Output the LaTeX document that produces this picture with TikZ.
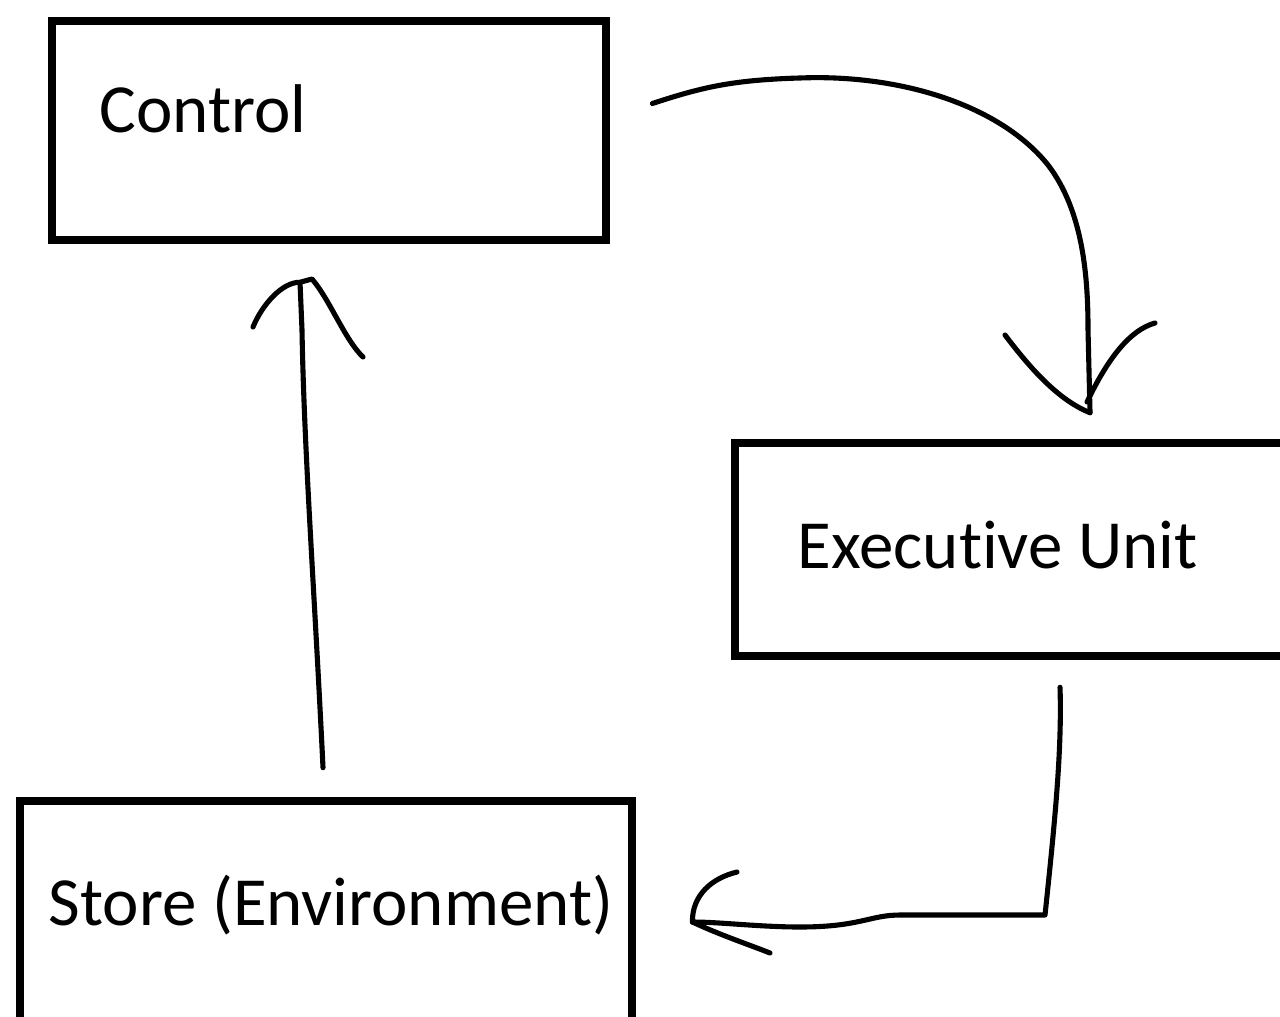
\documentclass[tikz,border=0pt]{standalone}
\usepackage{fontspec}
\setmainfont[Ligatures=NoCommon]{Carlito}
\usetikzlibrary{calc}
\begin{document}
\begin{tikzpicture}[x=0.01cm,y=-0.01cm,
  box/.style={draw=black, line width=2.4pt, rectangle, inner sep=0pt},
  lbl/.style={inner sep=0pt, anchor=base west, font=\fontsize{19.6}{24}\selectfont},
  hand/.style={draw=black, line width=1.45pt, line cap=round, line join=round}]
\useasboundingbox (0,0) rectangle (1280,1016);
\clip (0,0) rectangle (1280,1016);
\fill[white] (0,0) rectangle (1280,1016);
% boxes
\node[box, minimum width=5.54cm, minimum height=2.19cm] (control) at (329,130.5) {};
\node[box, minimum width=5.6cm, minimum height=2.13cm] (exec) at (1015,549.5) {};
\node[box, minimum width=6.12cm, minimum height=2.3cm] (store) at (326,916) {};
% labels
\node[lbl] (controltext) at (99,133) {Control};
\node[lbl] (exectext) at (797,568) {Executive Unit};
\node[lbl] (storetext) at (48,925) {Store (Environment)};
% connector Control -> Executive Unit
\coordinate (a1s) at ($(control.east)+(42,-27)$);
\coordinate (a1e) at ($(exec.north)+(75,-26)$);
\draw[hand] (a1s) .. controls (700,88) and (730,80) .. (800,78)
  .. controls (900,74) and (1000,105) .. (1048,165)
  .. controls (1084,212) and (1088,280) .. (1088,330) -- (a1e);
\draw[hand] (1005,335) .. controls (1030,368) and (1058,400) .. (a1e);
\draw[hand] (1155,323) .. controls (1130,330) and (1108,358) .. (1087,402);
% connector Executive Unit -> Store
\coordinate (a2s) at ($(exec.south)+(45,27)$);
\coordinate (a2e) at ($(store.east)+(56,6)$);
\draw[hand] (a2s) .. controls (1062,750) and (1055,820) .. (1045,915)
  -- (900,915) .. controls (870,915) and (860,927) .. (800,927)
  .. controls (760,927) and (720,922) .. (a2e);
\draw[hand] (a2e) .. controls (692,895) and (712,878) .. (737,872);
\draw[hand] (a2e) .. controls (720,935) and (750,945) .. (770,953);
% connector Store -> Control
\coordinate (a3s) at ($(store.north)+(-3,-29)$);
\coordinate (a3e) at ($(control.south)+(-29,38)$);
\draw[hand] (a3s) .. controls (315,600) and (304,450) .. (302,330) -- (a3e);
\draw[hand] (253,327) .. controls (262,305) and (282,282) .. (a3e) -- (312,279)
  .. controls (330,300) and (345,340) .. (363,357);
\end{tikzpicture}
\end{document}
